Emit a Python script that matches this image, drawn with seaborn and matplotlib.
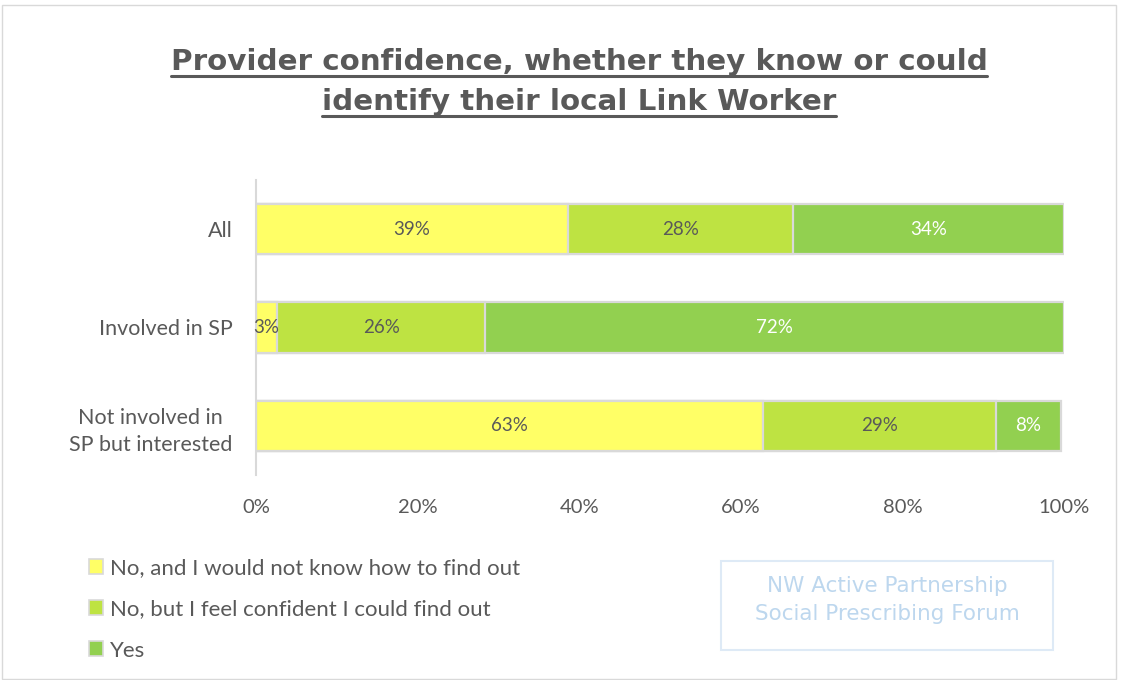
import matplotlib
matplotlib.use("Agg")
import matplotlib.pyplot as plt
from matplotlib.patches import Patch, Rectangle
from matplotlib.lines import Line2D
from matplotlib.ticker import PercentFormatter
import numpy as np
import pandas as pd
import seaborn as sns

# Survey results (share of respondents per group)
groups = ["All", "Involved in SP", "Not involved in\nSP but interested"]
series_names = [
    "No, and I would not know how to find out",
    "No, but I feel confident I could find out",
    "Yes",
]
no_dont_know = [0.386, 0.026, 0.627]
no_could_find = [0.279, 0.258, 0.289]
yes = [0.335, 0.716, 0.080]
x_ticks = [0, 0.2, 0.4, 0.6, 0.8, 1.0]

colors = ["#FFFF66", "#BEE342", "#92D050"]
label_colors = ["#595959", "#595959", "#FFFFFF"]
grey = "#595959"
edge = "#D9D9D9"

sns.set_theme(style="white")
plt.rcParams["font.family"] = ["Lato", "DejaVu Sans"]

fig = plt.figure(figsize=(11.22, 6.8), dpi=100)
ax = fig.add_axes([256 / 1122, 1 - 475 / 680, (1064 - 256) / 1122, (475 - 180) / 680])

values = np.array([no_dont_know, no_could_find, yes])
cum = values.cumsum(axis=0)

# Stacked bars: draw cumulative totals from the longest down so shorter ones sit on top
for i in reversed(range(len(series_names))):
    df = pd.DataFrame({"group": groups, "value": cum[i]})
    sns.barplot(data=df, x="value", y="group", orient="h", color=colors[i],
                saturation=1, width=0.51, edgecolor=edge, linewidth=1.6, ax=ax)

# Segment value labels
for i in range(len(series_names)):
    starts = cum[i] - values[i]
    for j, v in enumerate(values[i]):
        ax.text(starts[j] + v / 2, j, f"{v * 100:.0f}%", ha="center", va="center",
                fontsize=13.5, color=label_colors[i])

ax.set_xlim(0, 1)
ax.set_ylim(2.5, -0.5)
ax.set_xticks(x_ticks)
ax.xaxis.set_major_formatter(PercentFormatter(1.0, decimals=0))
ax.set_xlabel("")
ax.set_ylabel("")
ax.tick_params(axis="x", length=0, pad=17, labelsize=14.5, labelcolor=grey)
ax.tick_params(axis="y", length=0, pad=17, labelsize=15.5, labelcolor=grey)
for lab in ax.get_yticklabels():
    lab.set_multialignment("center")
    lab.set_linespacing(1.45)
for s in ["top", "right", "bottom"]:
    ax.spines[s].set_visible(False)
ax.spines["left"].set_color(edge)
ax.spines["left"].set_linewidth(1.5)
ax.grid(False)

# Title, underlined line by line
title_lines = ["Provider confidence, whether they know or could",
               "identify their local Link Worker"]
fig.canvas.draw()
renderer = fig.canvas.get_renderer()
for line, base in zip(title_lines, [70, 110]):
    t = fig.text(0.5 + 18 / 1122, 1 - base / 680, line, ha="center", va="baseline",
                 fontsize=21.2, fontweight="bold", color=grey, family=["DejaVu Sans"])
    bb = t.get_window_extent(renderer=renderer)
    x0, x1 = bb.x0 / fig.bbox.width, bb.x1 / fig.bbox.width
    yline = 1 - (base + 6) / 680
    fig.add_artist(Line2D([x0, x1], [yline, yline], color=grey, lw=2.2,
                          transform=fig.transFigure))

# Legend
handles = [Patch(facecolor=c, edgecolor=edge, linewidth=1.2) for c in colors]
fig.legend(handles, series_names, loc="upper left",
           bbox_to_anchor=(80 / 1122, 1 - 549 / 680), frameon=False,
           fontsize=16, labelcolor=grey, handlelength=0.65, handleheight=0.65,
           handletextpad=0.3, labelspacing=0.96, borderaxespad=0)

# Forum badge
fig.add_artist(Rectangle((721 / 1122, 1 - 650 / 680), (1053 - 721) / 1122, (650 - 561) / 680,
                         transform=fig.transFigure, facecolor="none",
                         edgecolor="#DEEAF6", linewidth=1.5))
fig.text(887 / 1122, 1 - 600 / 680, "NW Active Partnership\nSocial Prescribing Forum",
         ha="center", va="center", fontsize=15.5, color="#BDD7EE",
         family=["DejaVu Sans"], linespacing=1.45)

# Chart border
fig.add_artist(Rectangle((0.002, 0.002), 0.993, 0.99, transform=fig.transFigure,
                         facecolor="none", edgecolor=edge, linewidth=1))

fig.savefig("out.png", dpi=100, facecolor="white")
